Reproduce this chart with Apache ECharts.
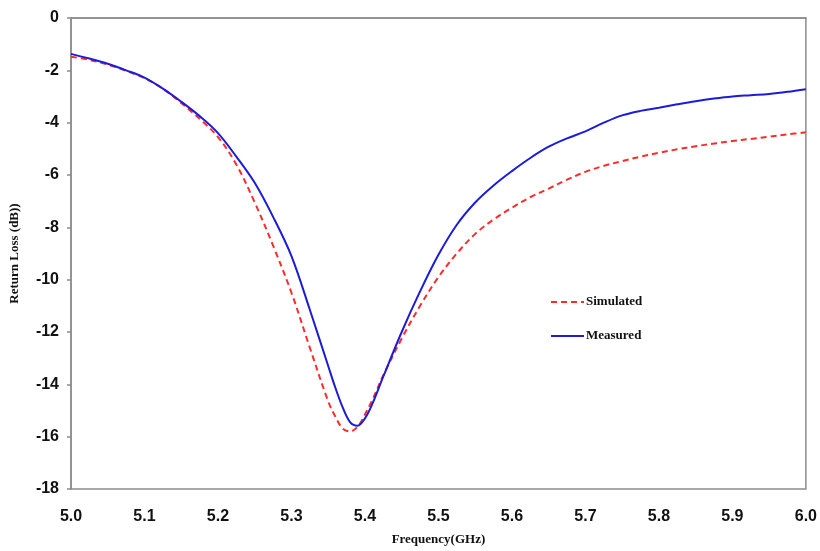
<!DOCTYPE html>
<html>
<head>
<meta charset="utf-8">
<script src="https://cdn.jsdelivr.net/npm/echarts@6/dist/echarts.min.js"></script>
<style>
  html, body { margin: 0; padding: 0; background: #fff; }
  #chart { width: 820px; height: 551px; }
</style>
</head>
<body>
<div id="chart"></div>
<script>
// Frequency sweep points (GHz)
const freq = [5.000, 5.025, 5.050, 5.075, 5.100, 5.125, 5.150, 5.175, 5.200, 5.225,
              5.250, 5.275, 5.300, 5.325, 5.350, 5.360, 5.370, 5.380, 5.390, 5.400,
              5.410, 5.425, 5.450, 5.475, 5.500, 5.525, 5.550, 5.575, 5.600, 5.625,
              5.650, 5.675, 5.700, 5.725, 5.750, 5.775, 5.800, 5.825, 5.850, 5.875,
              5.900, 5.925, 5.950, 5.975, 6.000];

// Return loss (dB)
const simulated = [-1.48, -1.60, -1.78, -2.02, -2.30, -2.70, -3.25, -3.85, -4.55, -5.60,
                   -7.05, -8.70, -10.50, -12.60, -14.65, -15.25, -15.70, -15.80, -15.62, -15.15,
                   -14.60, -13.65, -12.25, -11.00, -9.90, -9.00, -8.25, -7.70, -7.25, -6.85,
                   -6.52, -6.18, -5.88, -5.65, -5.47, -5.30, -5.15, -5.02, -4.90, -4.80,
                   -4.70, -4.62, -4.54, -4.45, -4.37];

const measured = [-1.37, -1.55, -1.75, -2.00, -2.28, -2.70, -3.20, -3.75, -4.40, -5.30,
                  -6.30, -7.60, -9.10, -11.15, -13.30, -14.15, -14.90, -15.45, -15.58, -15.30,
                  -14.75, -13.70, -12.00, -10.45, -9.05, -7.90, -7.05, -6.40, -5.85, -5.35,
                  -4.92, -4.60, -4.33, -4.00, -3.72, -3.55, -3.43, -3.30, -3.18, -3.08,
                  -3.00, -2.95, -2.90, -2.82, -2.72];

const xTicks = [5.0, 5.1, 5.2, 5.3, 5.4, 5.5, 5.6, 5.7, 5.8, 5.9, 6.0];

const pairs = (ys) => freq.map((f, i) => [f, ys[i]]);

const RED = '#ff2a2a';
const BLUE = '#1c1cd8';
const AXIS_GRAY = '#8c8c8c';
const tickFont = { fontFamily: 'Liberation Sans, Arial, sans-serif', fontWeight: 'bold', fontSize: 16, color: '#111' };
const nameFont = { fontFamily: 'Liberation Serif, Times New Roman, serif', fontWeight: 'bold', fontSize: 13, color: '#111' };

const chart = echarts.init(document.getElementById('chart'), null, { renderer: 'canvas' });

chart.setOption({
  animation: false,
  backgroundColor: '#fff',
  grid: {
    left: 69, right: 13, top: 18, bottom: 60,
    show: true, borderColor: AXIS_GRAY, borderWidth: 1.5, backgroundColor: 'transparent'
  },
  xAxis: {
    type: 'value',
    min: xTicks[0], max: xTicks[xTicks.length - 1], interval: 0.1,
    name: 'Frequency(GHz)',
    nameLocation: 'middle',
    nameGap: 44,
    nameTextStyle: nameFont,
    axisLine: { show: true, lineStyle: { color: AXIS_GRAY, width: 1.5 } },
    axisTick: { show: false },
    splitLine: { show: false },
    axisLabel: Object.assign({ margin: 20, formatter: (v) => v.toFixed(1) }, tickFont)
  },
  yAxis: {
    type: 'value',
    min: -18, max: 0, interval: 2,
    name: 'Return Loss (dB))',
    nameLocation: 'middle',
    nameGap: 50,
    nameTextStyle: nameFont,
    axisLine: { show: true, lineStyle: { color: AXIS_GRAY, width: 1.5 } },
    axisTick: { show: true, inside: false, length: 4, lineStyle: { color: AXIS_GRAY, width: 1.5 } },
    splitLine: { show: false },
    axisLabel: Object.assign({ margin: 12 }, tickFont)
  },
  series: [
    {
      name: 'Simulated',
      type: 'line',
      data: pairs(simulated),
      smooth: 0.35,
      symbol: 'none',
      lineStyle: { color: RED, width: 2, type: [6, 4] },
      z: 2
    },
    {
      name: 'Measured',
      type: 'line',
      data: pairs(measured),
      smooth: 0.35,
      symbol: 'none',
      lineStyle: { color: BLUE, width: 2 },
      z: 3
    }
  ],
  graphic: [
    { type: 'line', shape: { x1: 551, y1: 302, x2: 584, y2: 302 },
      style: { stroke: RED, lineWidth: 2, lineDash: [6, 4] } },
    { type: 'text', left: 586, top: 295,
      style: { text: 'Simulated', fill: '#111', font: 'bold 13px "Liberation Serif", serif' } },
    { type: 'line', shape: { x1: 551, y1: 336, x2: 584, y2: 336 },
      style: { stroke: BLUE, lineWidth: 2 } },
    { type: 'text', left: 586, top: 329,
      style: { text: 'Measured', fill: '#111', font: 'bold 13px "Liberation Serif", serif' } }
  ]
});
</script>
</body>
</html>
